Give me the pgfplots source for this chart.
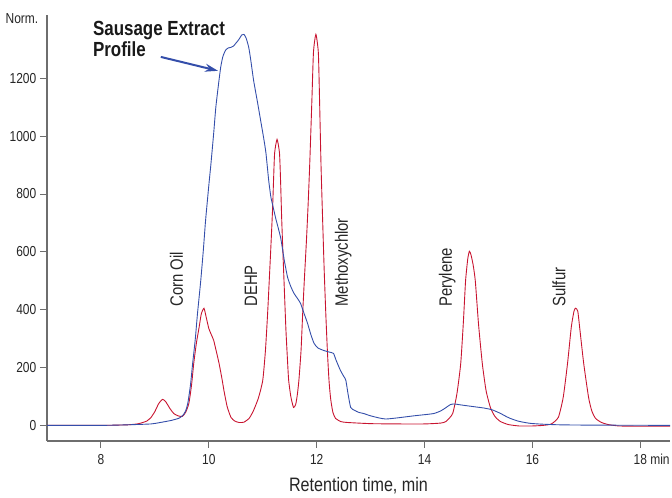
\documentclass[border=0pt]{standalone}
\usepackage{fontspec}
\setmainfont{Liberation Sans}[FakeStretch=0.83]
\usepackage{pgfplots}
\pgfplotsset{compat=1.18}
\usetikzlibrary{arrows.meta}
\definecolor{sblue}{RGB}{52,78,170}
\definecolor{sred}{RGB}{200,20,48}
\definecolor{axgray}{RGB}{110,110,110}
\newcommand{\tickfont}{\fontsize{14.5}{16}\selectfont}
\begin{document}
\begin{tikzpicture}[x=1bp,y=1bp]
\path (0,0) rectangle (672,498);
\begin{axis}[
  at={(47bp,57bp)}, anchor=south west,
  width=623bp, height=426bp, scale only axis,
  xmin=7.0, xmax=18.55, ymin=-54, ymax=1419,
  axis x line*=bottom, axis y line*=left,
  axis line style={axgray, line width=1.2pt},
  every tick/.style={axgray, line width=0.9pt},
  tick align=outside, major tick length=7bp,
  xtick={8,10,12,14,16,18},
  xticklabels={8,10,12,14,16,{18\rlap{ min}}},
  ytick={0,200,400,600,800,1000,1200},
  /pgf/number format/assume math mode=true,
  /pgf/number format/set thousands separator={},
  x tick label style={font=\tickfont, inner sep=0pt, text=black!85},
  y tick label style={font=\tickfont, inner sep=0pt, text=black!85},
  xticklabel shift=6bp, yticklabel shift=3.5bp,
  xlabel={Retention time, min},
  xlabel style={at={(axis description cs:0.5,0)}, anchor=base, yshift=-51bp, inner sep=0pt, font=\fontsize{19.5}{22}\selectfont, text=black!85},
  clip=true,
]
\addplot[sred, line width=0.9pt, smooth, tension=0.35] coordinates {
(7.0,0) (8.0,0) (8.5,2) (8.7,6) (8.85,15) (8.93,28) (9.0,48) (9.07,75) (9.14,90) (9.2,82) (9.28,58) (9.35,41) (9.43,33) (9.51,31) (9.57,45) (9.63,76) (9.68,140) (9.72,214) (9.77,285) (9.82,339) (9.86,385) (9.91,405) (9.95,375) (10.0,335) (10.05,312) (10.09,294) (10.14,255) (10.19,214) (10.24,165) (10.28,121) (10.34,65) (10.41,28) (10.48,15) (10.56,10) (10.65,11) (10.75,25) (10.83,52) (10.92,95) (11.0,156) (11.05,260) (11.09,387) (11.12,500) (11.15,616) (11.18,740) (11.20,847) (11.22,942) (11.265,989) (11.31,942) (11.33,847) (11.35,720) (11.37,616) (11.40,470) (11.43,328) (11.46,220) (11.48,156) (11.52,100) (11.57,62) (11.61,72) (11.64,105) (11.67,156) (11.71,260) (11.74,387) (11.77,500) (11.81,640) (11.84,760) (11.87,900) (11.91,1120) (11.94,1290) (11.985,1352) (12.03,1290) (12.05,1150) (12.08,900) (12.11,710) (12.14,530) (12.17,380) (12.20,250) (12.23,150) (12.26,90) (12.30,45) (12.35,24) (12.45,13) (12.57,10) (13.0,6) (13.5,5) (14.0,5) (14.3,8) (14.4,14) (14.52,41) (14.6,110) (14.67,214) (14.72,360) (14.76,500) (14.8,575) (14.83,602) (14.86,590) (14.9,555) (14.94,500) (15.0,350) (15.07,214) (15.14,120) (15.22,62) (15.3,32) (15.4,14) (15.55,3) (15.75,-2) (16.0,-2) (16.2,0) (16.35,5) (16.48,28) (16.57,97) (16.65,214) (16.72,340) (16.77,395) (16.8,405) (16.84,395) (16.88,330) (16.95,214) (17.04,97) (17.1,50) (17.17,24) (17.28,10) (17.4,3) (17.6,-2) (18.0,-3) (18.6,-3)
};
\addplot[sblue, line width=0.9pt, smooth, tension=0.35] coordinates {
(7.0,0) (8.0,0) (8.5,2) (8.93,5) (9.1,10) (9.3,17) (9.45,25) (9.52,35) (9.57,50) (9.61,76) (9.66,140) (9.70,214) (9.75,300) (9.79,387) (9.85,500) (9.9,610) (9.94,709) (10.0,830) (10.04,906) (10.09,1010) (10.13,1100) (10.18,1180) (10.22,1238) (10.26,1275) (10.31,1297) (10.36,1305) (10.41,1307) (10.46,1312) (10.5,1321) (10.56,1335) (10.61,1350) (10.65,1352) (10.69,1340) (10.74,1307) (10.78,1260) (10.83,1193) (10.9,1120) (10.96,1055) (11.02,990) (11.06,940) (11.11,847) (11.15,790) (11.18,765) (11.24,716) (11.33,650) (11.40,570) (11.46,512) (11.52,480) (11.58,456) (11.64,440) (11.70,422) (11.76,390) (11.83,353) (11.89,315) (11.95,284) (12.02,268) (12.13,259) (12.22,254) (12.31,249) (12.36,225) (12.44,190) (12.5,170) (12.54,156) (12.58,110) (12.63,62) (12.7,52) (12.78,45) (12.87,41) (13.0,33) (13.15,26) (13.28,22) (13.5,26) (13.8,33) (14.0,37) (14.17,41) (14.3,50) (14.4,62) (14.48,72) (14.55,74) (14.7,70) (14.9,65) (15.1,60) (15.25,54) (15.4,42) (15.5,32) (15.59,24) (15.75,14) (15.96,7) (16.2,4) (16.5,2) (17.0,1) (18.6,0)
};
\draw[sblue, line width=2pt, -{Stealth[length=13bp,width=8bp]}] (axis cs:9.11,1274) -- (axis cs:10.17,1226);
\node[anchor=base west, inner sep=0pt, font=\fontsize{20.5}{22}\selectfont\bfseries, text=black!90] at (axis cs:7.85,1347) {Sausage Extract};
\node[anchor=base west, inner sep=0pt, font=\fontsize{20.5}{22}\selectfont\bfseries, text=black!90] at (axis cs:7.85,1274) {Profile};
\foreach \xx/\lab in {9.40/Corn Oil, 10.78/DEHP, 12.49/Methoxychlor, 14.42/Perylene, 16.49/Sulfur}{
  \edef\tmp{\noexpand\node[rotate=90, anchor=west, inner sep=0pt, font=\noexpand\fontsize{18}{20}\noexpand\selectfont, text=black!85] at (axis cs:\xx,410) {\lab};}
  \tmp
}
\end{axis}
\node[anchor=base east, inner sep=0pt, font=\tickfont, text=black!85] at (38.5bp,474bp) {Norm.};
\end{tikzpicture}
\end{document}
